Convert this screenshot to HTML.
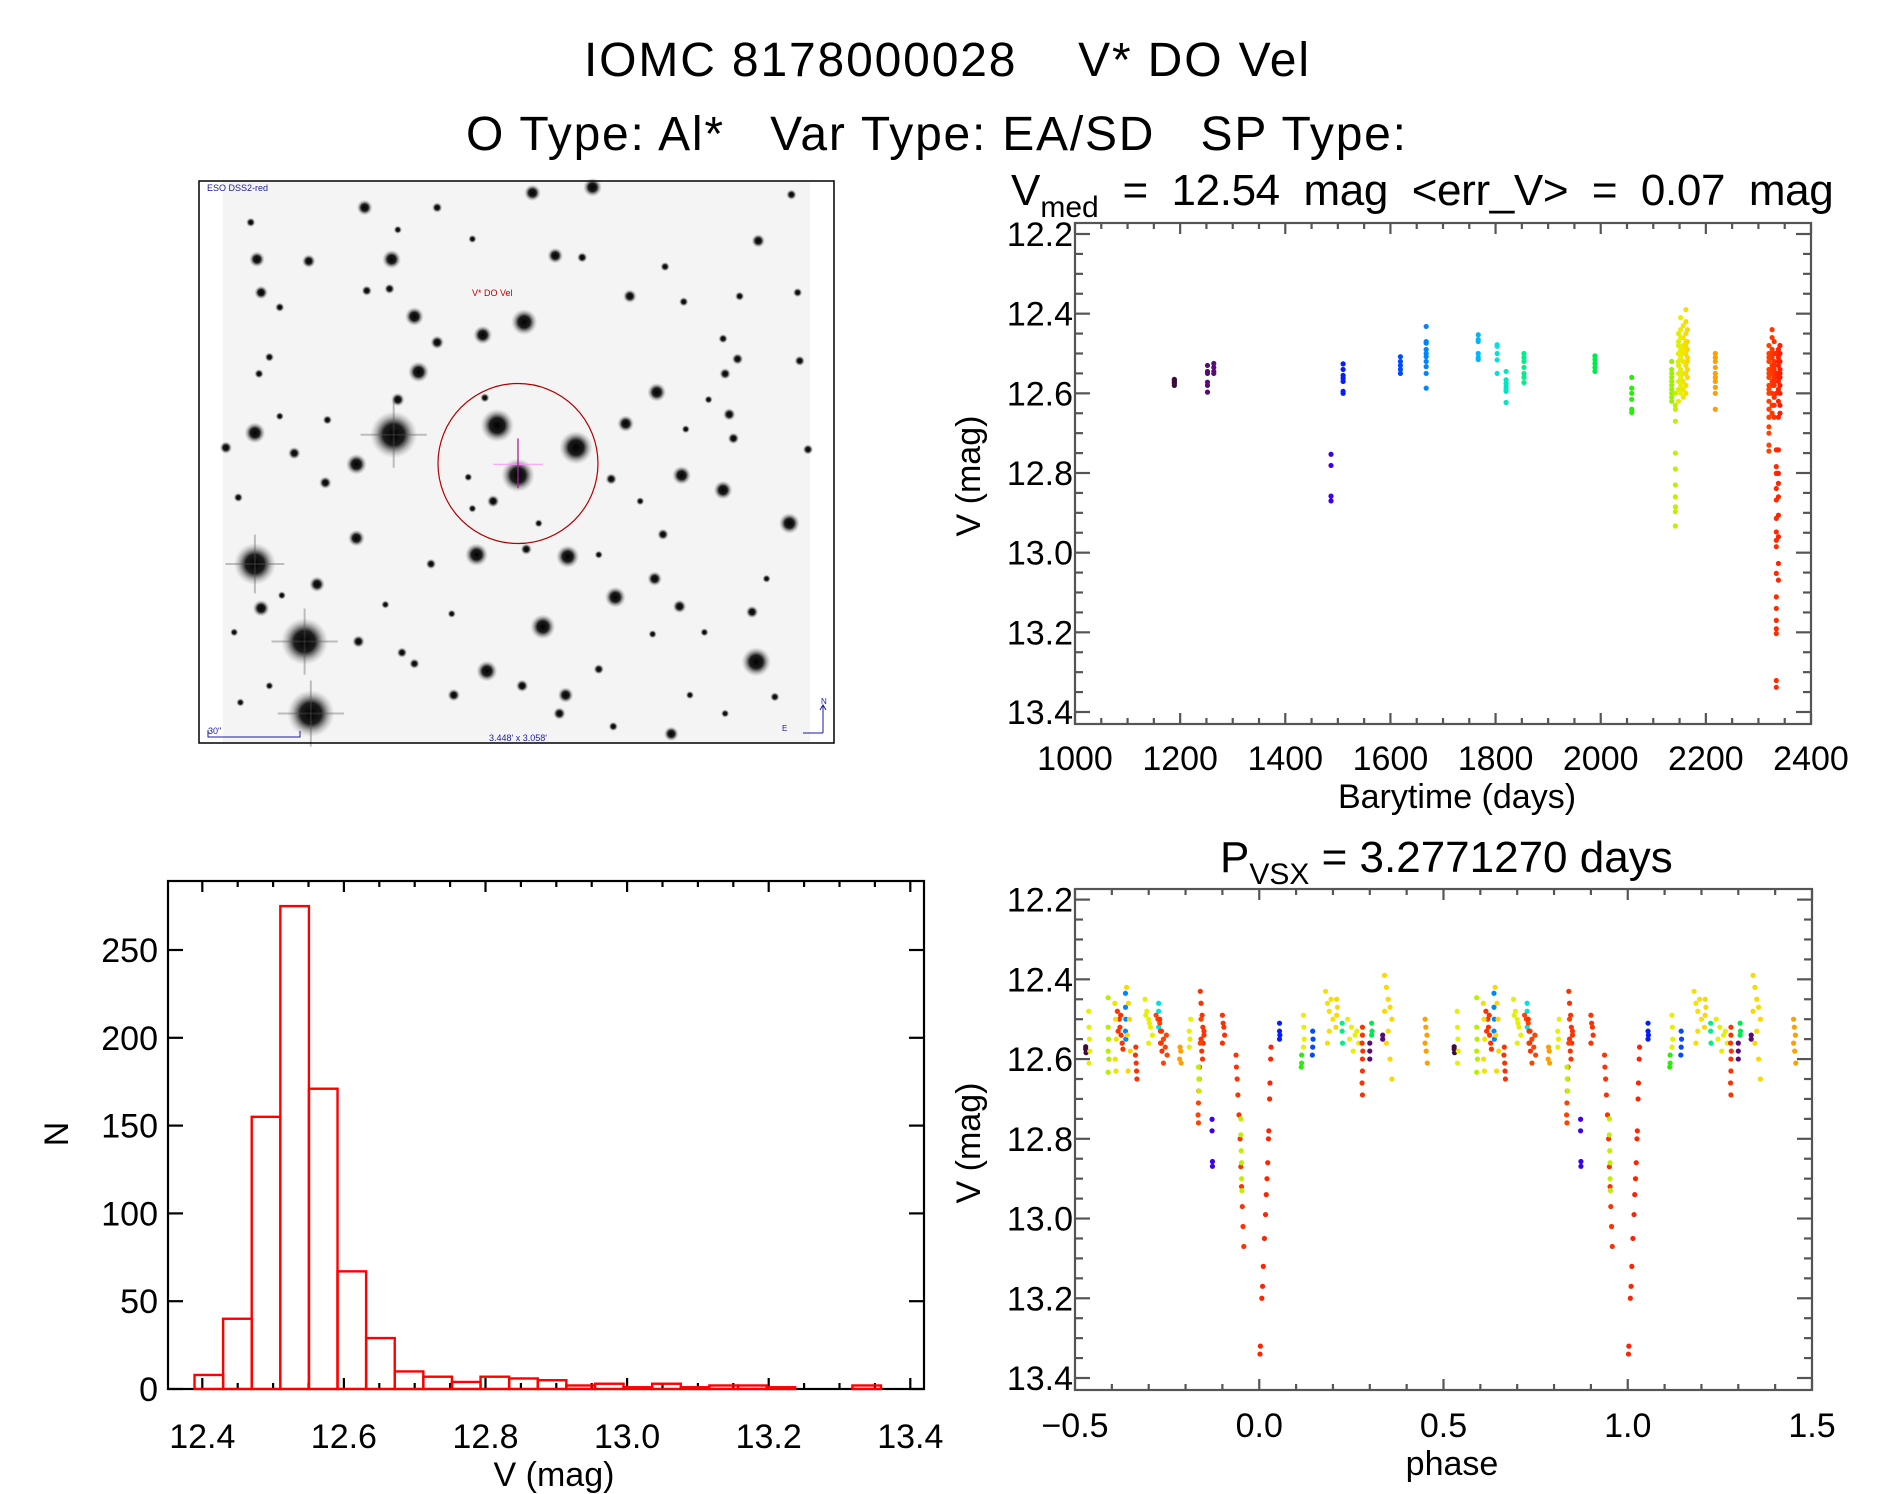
<!DOCTYPE html>
<html><head><meta charset="utf-8"><title>IOMC 8178000028 V* DO Vel</title>
<style>
html,body{margin:0;padding:0;background:#fff;}
svg{display:block;font-family:"Liberation Sans",sans-serif;}
text{white-space:pre;}
</style></head>
<body>
<svg id="fig" width="1889" height="1494" viewBox="0 0 1889 1494" xmlns="http://www.w3.org/2000/svg" xml:space="preserve">
<defs>
<radialGradient id="starGrad">
<stop offset="0" stop-color="#000" stop-opacity="1"/>
<stop offset="0.45" stop-color="#111" stop-opacity="0.95"/>
<stop offset="0.75" stop-color="#444" stop-opacity="0.35"/>
<stop offset="1" stop-color="#888" stop-opacity="0"/>
</radialGradient>
</defs>
<text x="584" y="76" font-size="48" textLength="725" lengthAdjust="spacing">IOMC 8178000028    V* DO Vel</text>
<text x="466" y="150" font-size="48" textLength="940" lengthAdjust="spacing">O Type: Al*   Var Type: EA/SD   SP Type:</text>
<text x="1011" y="205" font-size="44">V<tspan font-size="30" dy="12">med</tspan><tspan dy="-12" textLength="735" lengthAdjust="spacing">  =  12.54  mag  &lt;err_V&gt;  =  0.07  mag</tspan></text>
<text x="1220" y="872" font-size="44">P<tspan font-size="30" dy="12">VSX</tspan><tspan dy="-12"> = 3.2771270 days</tspan></text>
<g id="sky"></g>
<g id="ts"></g>
<g id="ph"></g>
<g id="hist"></g>
</svg>
<script>
// ---------- Light curve data (barytime groups) ----------
const groupTimes = [1189,1252,1264,1487,1510,1619,1668,1767,1803,1820,1854,1989,2059,2135,2142,2148,2152,2157,2162,2165,2218,2320,2326,2330,2334,2338,2341];
const groupMags = [
 [12.565,12.568,12.572,12.575,12.58],
 [12.53,12.545,12.55,12.572,12.58,12.597],
 [12.525,12.535,12.545,12.55],
 [12.753,12.781,12.858,12.87],
 [12.526,12.54,12.555,12.562,12.57,12.595,12.6],
 [12.508,12.52,12.53,12.54,12.55],
 [12.432,12.47,12.474,12.49,12.5,12.508,12.52,12.533,12.55,12.587],
 [12.453,12.465,12.47,12.5,12.51,12.515],
 [12.478,12.482,12.5,12.516,12.55],
 [12.545,12.566,12.575,12.583,12.59,12.595,12.623],
 [12.5,12.51,12.52,12.535,12.55,12.56,12.573],
 [12.506,12.515,12.525,12.535,12.545],
 [12.56,12.587,12.6,12.615,12.64,12.648],
 [12.54,12.56,12.58,12.6,12.62,12.59,12.57,12.55,12.52,12.61],
 [12.64,12.67,12.75,12.79,12.83,12.86,12.885,12.897,12.933,12.6,12.63],
 [12.45,12.48,12.5,12.52,12.55,12.57,12.59,12.62,12.47,12.53],
 [12.41,12.44,12.46,12.49,12.51,12.54,12.56,12.58,12.6,12.5],
 [12.43,12.46,12.48,12.5,12.52,12.55,12.57,12.59,12.61,12.49],
 [12.39,12.42,12.45,12.47,12.5,12.53,12.55,12.58,12.6,12.48],
 [12.44,12.47,12.49,12.51,12.54,12.56,12.52],
 [12.5,12.51,12.52,12.535,12.55,12.56,12.57,12.585,12.6,12.64],
 [12.48,12.5,12.52,12.54,12.56,12.58,12.6,12.62,12.64,12.66,12.684,12.7,12.73,12.745,12.51,12.55,12.59],
 [12.44,12.46,12.49,12.51,12.53,12.55,12.57,12.6,12.63,12.65,12.5,12.54,12.58],
 [12.47,12.5,12.52,12.54,12.56,12.58,12.61,12.63,12.66,12.53,12.57],
 [12.742,12.784,12.801,12.839,12.868,12.914,12.948,12.969,12.985,13.052,13.111,13.14,13.17,13.191,13.203,13.321,13.338,12.5,12.55,12.6],
 [12.49,12.51,12.53,12.55,12.57,12.59,12.62,12.66,12.742,12.801,12.826,12.86,12.906,12.96,13.027,13.069,12.52,12.56],
 [12.48,12.5,12.52,12.54,12.56,12.58,12.6,12.63,12.65,12.55]
];
const tsXTicks = [1000,1200,1400,1600,1800,2000,2200,2400];
const magTicks = [12.2,12.4,12.6,12.8,13.0,13.2,13.4];

// ---------- Phased data (phase in [-0.5,0.5), drawn twice) ----------
const phGroupTimes = [1189,2150,2140,2330,1668,2165,2160,2330,2150,1803,2320,2330,2218,2150,2330,2320,2142,1487,2330,2330,2142,2338,2338,1510,2059,2150,1619,2160,2165,1854,2150,2330,1264,1989,1252,2165,2218];
const phGroupPhases = [
 [-0.471,-0.471,-0.47],
 [-0.463,-0.462,-0.461,-0.46,-0.462],
 [-0.41,-0.41,-0.409,-0.41,-0.408,-0.41],
 [-0.385,-0.38,-0.378,-0.375,-0.372,-0.37,-0.383,-0.376],
 [-0.363,-0.363,-0.362,-0.363,-0.362],
 [-0.36,-0.355,-0.352,-0.358,-0.35,-0.356],
 [-0.392,-0.39,-0.388,-0.391,-0.389],
 [-0.335,-0.336,-0.334,-0.333,-0.332],
 [-0.31,-0.305,-0.3,-0.295,-0.29,-0.3,-0.308,-0.298],
 [-0.273,-0.273,-0.272,-0.273],
 [-0.28,-0.27,-0.265,-0.26,-0.255,-0.25,-0.26,-0.275,-0.252,-0.268],
 [-0.27,-0.268,-0.266,-0.264],
 [-0.215,-0.213,-0.216,-0.212],
 [-0.19,-0.188,-0.19,-0.186],
 [-0.16,-0.158,-0.155,-0.153,-0.15,-0.152,-0.156,-0.154,-0.158,-0.15],
 [-0.162,-0.163,-0.164,-0.165,-0.166,-0.165,-0.16,-0.158],
 [-0.165,-0.164,-0.163],
 [-0.128,-0.128,-0.127,-0.127],
 [-0.1,-0.098,-0.096,-0.094,-0.1],
 [-0.063,-0.062,-0.06,-0.058,-0.055,-0.052,-0.05,-0.048,-0.046,-0.044,-0.042],
 [-0.05,-0.05,-0.049,-0.048,-0.048,-0.047],
 [0.003,0.002],
 [0.007,0.009,0.011,0.014,0.017,0.019,0.021,0.023,0.025,0.026,0.028,0.029,0.031,0.032],
 [0.055,0.055,0.056,0.055],
 [0.115,0.115,0.114],
 [0.12,0.121,0.122,0.12],
 [0.145,0.146,0.145,0.144],
 [0.18,0.185,0.19,0.195,0.2,0.19,0.185],
 [0.21,0.212,0.21,0.208],
 [0.225,0.225,0.226],
 [0.24,0.25,0.26,0.27,0.255,0.245,0.265],
 [0.28,0.28,0.279,0.281,0.28,0.28,0.279,0.28],
 [0.3,0.3,0.3],
 [0.305,0.306,0.305],
 [0.335,0.335],
 [0.34,0.345,0.35,0.355,0.36,0.35,0.345,0.355,0.36,0.34],
 [0.45,0.452,0.455,0.45,0.453,0.456]
];
const phGroupMags = [
 [12.569,12.575,12.584],
 [12.48,12.52,12.55,12.58,12.61],
 [12.446,12.52,12.55,12.58,12.6,12.633],
 [12.48,12.5,12.52,12.54,12.56,12.575,12.53,12.49],
 [12.435,12.47,12.5,12.53,12.55],
 [12.42,12.46,12.5,12.54,12.58,12.63],
 [12.46,12.5,12.55,12.6,12.63],
 [12.57,12.59,12.61,12.63,12.65],
 [12.45,12.48,12.5,12.52,12.54,12.56,12.49,12.51],
 [12.46,12.48,12.5,12.52],
 [12.49,12.51,12.53,12.55,12.57,12.59,12.61,12.5,12.54,12.56],
 [12.5,12.53,12.56,12.58],
 [12.57,12.58,12.6,12.61],
 [12.53,12.55,12.57,12.5],
 [12.43,12.46,12.49,12.52,12.54,12.56,12.58,12.6,12.55,12.53],
 [12.62,12.65,12.68,12.71,12.74,12.76,12.56,12.5],
 [12.62,12.65,12.68],
 [12.751,12.78,12.857,12.869],
 [12.49,12.51,12.52,12.54,12.56],
 [12.59,12.62,12.65,12.69,12.74,12.8,12.87,12.92,12.97,13.02,13.07],
 [12.75,12.79,12.83,12.86,12.9,12.93],
 [13.32,13.34],
 [13.2,13.17,13.12,13.05,12.99,12.94,12.9,12.86,12.8,12.78,12.7,12.66,12.6,12.57],
 [12.51,12.53,12.54,12.55],
 [12.59,12.61,12.62],
 [12.49,12.52,12.55,12.57],
 [12.53,12.55,12.57,12.59],
 [12.43,12.46,12.48,12.45,12.5,12.53,12.56],
 [12.45,12.47,12.49,12.52],
 [12.51,12.53,12.56],
 [12.5,12.52,12.54,12.56,12.58,12.55,12.53],
 [12.52,12.54,12.56,12.58,12.6,12.63,12.66,12.69],
 [12.56,12.58,12.6],
 [12.51,12.53,12.54],
 [12.54,12.55],
 [12.39,12.42,12.45,12.47,12.5,12.53,12.56,12.6,12.65,12.48],
 [12.5,12.52,12.54,12.56,12.58,12.61]
];
const phXTicks = [-0.5,0.0,0.5,1.0,1.5];
const phXTickLabels = ["\u22120.5","0.0","0.5","1.0","1.5"];

// ---------- Histogram data ----------
const histCounts = [8,40,155,275,171,67,29,10,7,4,7,6,5,2,3,1,3,1,2,2,1,0,0,2];
const histBinStart = 12.389;
const histBinWidth = 0.0404;
const histXTicks = [12.4,12.6,12.8,13.0,13.2,13.4];
const histYTicks = [0,50,100,150,200,250];

// ---------- helpers ----------
const NS = "http://www.w3.org/2000/svg";
function mk(tag, parent, attrs){
  const e = document.createElementNS(NS, tag);
  for (const k in attrs) e.setAttribute(k, attrs[k]);
  parent.appendChild(e);
  return e;
}
function lin(d0,d1,r0,r1){ return v => r0 + (v-d0)/(d1-d0)*(r1-r0); }

const cmapStops = [
 [0.00,[60,10,60]],[0.06,[90,10,120]],[0.26,[60,0,240]],[0.28,[0,30,255]],
 [0.37,[0,70,255]],[0.41,[0,130,255]],[0.50,[0,180,255]],[0.53,[0,225,230]],
 [0.58,[0,240,130]],[0.70,[0,235,70]],[0.76,[40,240,0]],[0.82,[150,240,0]],
 [0.835,[235,240,0]],[0.85,[255,210,0]],[0.90,[255,150,0]],[0.975,[255,80,0]],[1.0,[255,30,0]]
];
function colorFor(t){
  const f = Math.max(0, Math.min(1, (t-1189)/(2341-1189)));
  for (let i=1;i<cmapStops.length;i++){
    if (f <= cmapStops[i][0]){
      const a = cmapStops[i-1], b = cmapStops[i];
      const u = (f-a[0])/(b[0]-a[0]);
      const c = a[1].map((v,j)=>Math.round(v+(b[1][j]-v)*u));
      return "rgb("+c.join(",")+")";
    }
  }
  return "rgb(255,30,0)";
}

function frameAndTicks(g, L, R, T, B, xs, ys, xMajors, xMinorStep, xDom, yMajors, yMinorStep, yDom, color){
  const fr = mk("rect", g, {x:L, y:T, width:R-L, height:B-T, fill:"none", stroke:color, "stroke-width":2.2});
  
  
  const tg = mk("g", g, {stroke:color, "stroke-width":2.2});
  
  
  const eps = 1e-6;
  for (let v = xDom[0]; v <= xDom[1]+eps; v += xMinorStep){
    const isMaj = xMajors.some(m => Math.abs(m-v) < xMinorStep/10);
    const len = isMaj ? 11 : 6;
    const x = xs(v);
    if (x < L-0.5 || x > R+0.5) continue;
    mk("line", tg, {x1:x, y1:B, x2:x, y2:B-len});
    mk("line", tg, {x1:x, y1:T, x2:x, y2:T+len});
  }
  for (let v = yDom[0]; v <= yDom[1]+eps; v += yMinorStep){
    const isMaj = yMajors.some(m => Math.abs(m-v) < yMinorStep/10);
    const len = isMaj ? 15 : 8;
    const y = ys(v);
    if (y < T-0.5 || y > B+0.5) continue;
    mk("line", tg, {x1:L, y1:y, x2:L+len, y2:y});
    mk("line", tg, {x1:R, y1:y, x2:R-len, y2:y});
  }
}
function addText(parent, x, y, str, size, anchor, rot){
  const t = mk("text", parent, {x:x, y:y, "font-size":size, "text-anchor":anchor||"start"});
  if (rot) t.setAttribute("transform", "rotate(-90 "+x+" "+y+")");
  t.textContent = str;
  return t;
}

// ---------- Light curve ----------
(function(){
  const g = document.getElementById("ts");
  const L=1075,R=1811,T=223,B=724;
  const xs = lin(1000,2400,L,R);
  const ys = lin(12.2,13.4,234,712);
  frameAndTicks(g,L,R,T,B,xs,ys,tsXTicks,50,[1000,2400],magTicks,0.05,[12.2,13.4],"#555");
  const pg = mk("g", g, {});
  
  
  groupTimes.forEach((t,i)=>{
    groupMags[i].forEach(m=>{
      const c = mk("circle", pg, {cx:xs(t), cy:ys(m), r:2.6, fill:colorFor(t)});
      
      
    });
  });
  tsXTicks.forEach(v=>{
    const t = addText(g, xs(v), 770, String(v), 34, "middle");
    
    
  });
  magTicks.forEach(v=>{
    const t = addText(g, 1073, ys(v)+12, v.toFixed(1), 34, "end");
    
    
  });
  const xl = addText(g, 1457, 808, "Barytime (days)", 34, "middle");
  
  
  const yl = addText(g, 980, 476, "V (mag)", 34, "middle", true);
  
  
})();

// ---------- Phase plot ----------
(function(){
  const g = document.getElementById("ph");
  const L=1075,R=1812,T=889,B=1390;
  const xs = lin(-0.5,1.5,L,R);
  const ys = lin(12.2,13.4,899.6,1378);
  frameAndTicks(g,L,R,T,B,xs,ys,phXTicks,0.1,[-0.5,1.5],magTicks,0.05,[12.2,13.4],"#555");
  const pg = mk("g", g, {});
  
  
  phGroupTimes.forEach((t,i)=>{
    phGroupPhases[i].forEach((p,j)=>{
      const m = phGroupMags[i][j];
      [p, p+1].forEach(pp=>{
        if (pp < -0.5 || pp > 1.5) return;
        const c = mk("circle", pg, {cx:xs(pp), cy:ys(m), r:2.6, fill:colorFor(t)});
        
        
      });
    });
  });
  phXTicks.forEach((v,i)=>{
    const t = addText(g, xs(v), 1437, phXTickLabels[i], 34, "middle");
    
    
  });
  magTicks.forEach(v=>{
    const t = addText(g, 1073, ys(v)+12, v.toFixed(1), 34, "end");
    
    
  });
  const xl = addText(g, 1452, 1475, "phase", 34, "middle");
  
  
  const yl = addText(g, 980, 1143, "V (mag)", 34, "middle", true);
  
  
})();

// ---------- Histogram ----------
(function(){
  const g = document.getElementById("hist");
  const L=168,R=924,T=881,B=1389;
  const xs = lin(12.4,13.4,202.3,910.3);
  const ys = lin(0,250,B,B-5*87.8);
  frameAndTicks(g,L,R,T,B,xs,ys,histXTicks,0.05,[12.35,13.4],histYTicks,50,[0,290],"#000");
  const bg = mk("g", g, {fill:"none", stroke:"#f00", "stroke-width":2.4});
  
  
  histCounts.forEach((c,i)=>{
    const x0 = xs(histBinStart + i*histBinWidth), x1 = xs(histBinStart + (i+1)*histBinWidth);
    const r = mk("rect", bg, {x:x0, y:ys(c), width:x1-x0, height:ys(0)-ys(c)});
    
    
  });
  histXTicks.forEach(v=>{
    const t = addText(g, xs(v), 1448, v.toFixed(1), 34, "middle");
    
    
  });
  histYTicks.forEach(v=>{
    const t = addText(g, 158, ys(v)+12, String(v), 34, "end");
    
    
  });
  const xl = addText(g, 554, 1486, "V (mag)", 34, "middle");
  
  
  const yl = addText(g, 68, 1134, "N", 34, "middle", true);
  
  
})();

// ---------- Sky image (DSS finder chart) ----------
const starField = [
 [480,705,45],[265,1265,45],[280,1460,45],[145,1055,40],[730,680,32],[920,740,32],[780,815,32],[795,400,25],
 [1355,1320,28],[840,1225,24],[680,1030,22],[900,1035,22],[705,1345,20],[1015,1145,20],[145,700,20],[390,785,20],
 [540,535,20],[530,385,18],[695,435,18],[475,230,18],[1115,590,18],[1175,815,18],[1275,855,18],[1435,945,20],
 [1040,675,16],[160,1175,16],[390,985,16],[295,1110,15],[895,1410,15],[815,50,16],[960,35,18],[410,90,15],
 [150,230,15],[275,235,13],[160,320,13],[870,220,15],[1360,180,13],[1050,330,13],[585,455,13],[490,610,13],
 [240,755,12],[315,835,12],[720,885,12],[1110,1095,14],[1170,1170,13],[1345,1185,12],[790,1385,12],[625,1410,12],
 [395,1265,12],[1150,1515,14],[880,1460,12],[1290,650,12],[1300,715,11],[1280,540,11],[1310,500,11],[1005,825,11],
 [1130,975,11],[800,1015,11],[570,1055,10],[975,1340,10],[530,1325,10],[500,1295,10],[415,315,10],[470,310,10],
 [935,225,10],[585,90,10],[1440,55,10],[1460,505,10],[1455,320,9],[205,360,9],[180,495,9],[155,540,9],[320,665,9],
 [105,875,9],[700,605,9],[1400,1415,9],[1010,1495,9],[1180,345,9],[1275,445,9],[1135,250,9],[1315,330,9],
 [75,740,12],[1480,745,10],[135,130,9],[490,150,8],[670,175,8],[1240,610,8],[1185,690,8],[1075,885,8],
 [660,820,8],[670,905,8],[830,945,8],[975,1030,8],[1230,1240,8],[1105,1245,8],[460,1165,8],[620,1190,8],
 [210,1140,8],[95,1240,8],[180,1385,8],[110,1430,8],[1195,1410,8],[1280,1460,8],[1380,1095,8],[205,655,8]
];
(function(){
  const g = document.getElementById("sky");
  const fx = xd => 223 + (xd-68)*0.4143;
  const fy = yd => 181 + (yd-18)*0.3693;
  const bgR = mk("rect", g, {x:223, y:181, width:587, height:562, fill:"#f4f4f4"});
  
  
  const sg = mk("g", g, {});
  
  
  starField.forEach(s=>{
    const r = s[2]*0.42*1.25;
    const c = mk("circle", sg, {cx:fx(s[0]), cy:fy(s[1]), r:r, fill:"url(#starGrad)"});
    
    
    if (s[2] >= 40){
      const l1 = mk("line", sg, {x1:fx(s[0])-r*1.4, y1:fy(s[1]), x2:fx(s[0])+r*1.4, y2:fy(s[1]), stroke:"#555", "stroke-width":2, opacity:0.35});
      
      
      const l2 = mk("line", sg, {x1:fx(s[0]), y1:fy(s[1])-r*1.4, x2:fx(s[0]), y2:fy(s[1])+r*1.4, stroke:"#555", "stroke-width":2, opacity:0.35});
      
      
    }
  });
  const fr = mk("path", g, {d:"M199 181 H834 V743 H199 Z", fill:"none", stroke:"#000", "stroke-width":1.5});
  
  
  const circ = mk("ellipse", g, {cx:fx(780), cy:fy(783), rx:80, ry:80, fill:"none", stroke:"#b00000", "stroke-width":1.2});
  
  
  const ch = mk("line", g, {x1:fx(720), y1:fy(785), x2:fx(840), y2:fy(785), stroke:"#ff90ff", "stroke-width":1});
  
  
  const cv = mk("line", g, {x1:fx(780), y1:fy(715), x2:fx(780), y2:fy(850), stroke:"#a020a0", "stroke-width":1.3});
  
  
  const t1 = mk("text", g, {x:207, y:191, "font-size":9, fill:"#1a1aa0"}); t1.textContent = "ESO DSS2-red";
  
  
  const t2 = mk("text", g, {x:472, y:296, "font-size":9, fill:"#c00000"}); t2.textContent = "V* DO Vel";
  
  
  const sb = mk("path", g, {d:"M208 730 V737 H300 V731", fill:"none", stroke:"#1a1aa0", "stroke-width":1});
  
  
  const t3 = mk("text", g, {x:208, y:734, "font-size":9, fill:"#1a1aa0"}); t3.textContent = "30\"";
  
  
  const t4 = mk("text", g, {x:518, y:741, "font-size":9, fill:"#1a1aa0", "text-anchor":"middle"}); t4.textContent = "3.448' x 3.058'";
  
  
  const cp = mk("path", g, {d:"M823 733 V706 M820 710 L823 705 L826 710 M823 733 H803", fill:"none", stroke:"#1a1aa0", "stroke-width":1});
  
  
  const tn = mk("text", g, {x:821, y:704, "font-size":8, fill:"#1a1aa0"}); tn.textContent = "N";
  
  
  const te = mk("text", g, {x:782, y:731, "font-size":8, fill:"#1a1aa0"}); te.textContent = "E";
  
  
})();
</script>
</body></html>
